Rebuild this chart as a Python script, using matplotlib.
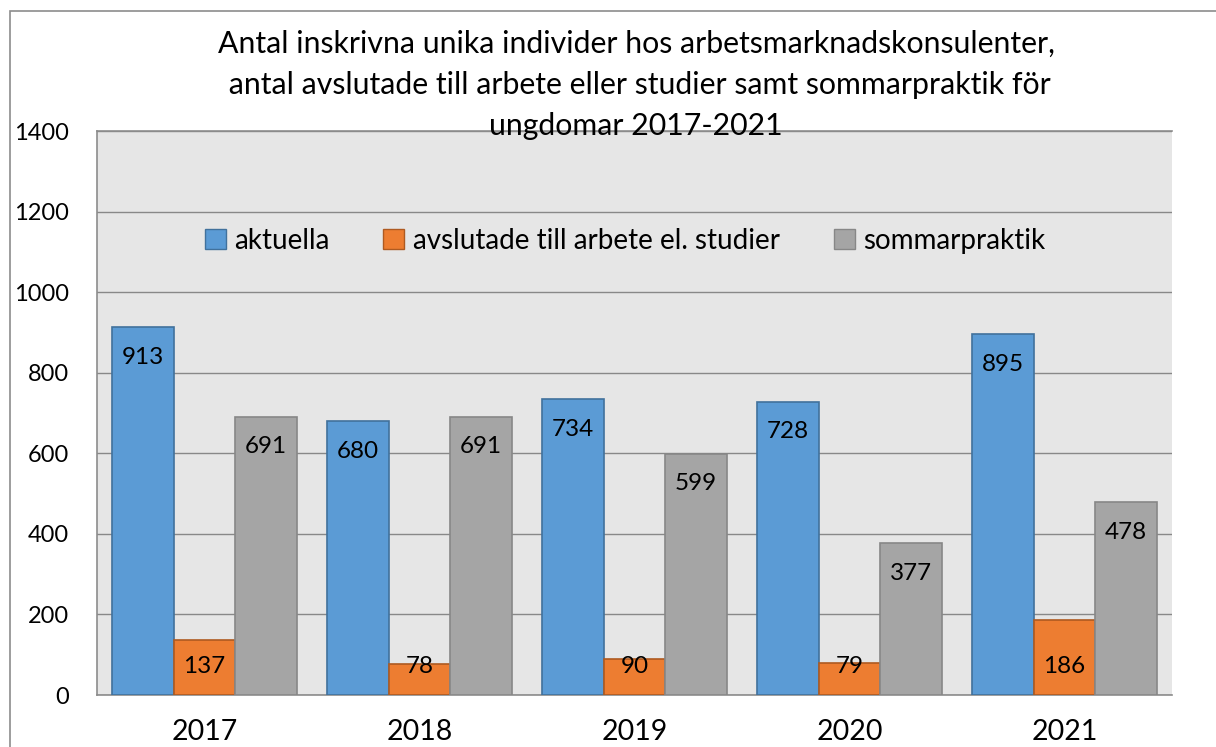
import matplotlib
matplotlib.use("Agg")
import matplotlib.pyplot as plt
from matplotlib.patches import Rectangle, Patch
import numpy as np

years = ["2017", "2018", "2019", "2020", "2021"]
aktuella = [913, 680, 734, 728, 895]
avslutade = [137, 78, 90, 79, 186]
sommarpraktik = [691, 691, 599, 377, 478]
series_names = ["aktuella", "avslutade till arbete el. studier", "sommarpraktik"]
title = ("Antal inskrivna unika individer hos arbetsmarknadskonsulenter,\n"
         " antal avslutade till arbete eller studier samt sommarpraktik för\n"
         "ungdomar 2017-2021")

plt.rcParams['font.family'] = ['Lato', 'DejaVu Sans']

W, H = 1216, 747
fig = plt.figure(figsize=(W/100, H/100), dpi=100)
fig.patch.set_facecolor('white')
# outer border
fig.add_artist(Rectangle((10/W, -0.1), 1.2, (H - 11)/H + 0.1, transform=fig.transFigure,
                         fill=False, edgecolor='#8c8c8c', linewidth=1.2))

ax = fig.add_axes([97/W, 52/H, (1172-97)/W, (695-131)/H])
ax.set_facecolor('#e6e6e6')

fills = ['#5b9bd5', '#ed7d31', '#a5a5a5']
edges = ['#41719c', '#ae5a21', '#878787']
data = [aktuella, avslutade, sommarpraktik]
x = np.arange(len(years))
bw = 0.286
for i, (vals, fc, ec) in enumerate(zip(data, fills, edges)):
    pos = x + (i - 1) * bw
    ax.bar(pos, vals, width=bw, color=fc, edgecolor=ec, linewidth=1.2, zorder=3)
    for p, v in zip(pos, vals):
        if i == 1:
            y = 70
        else:
            y = v - 75
        ax.text(p, y, str(v), ha='center', va='center', fontsize=17.5, color='black', zorder=4)

ax.set_xlim(-0.5, 4.5)
ax.set_ylim(0, 1400)
ax.set_yticks(range(0, 1401, 200))
ax.set_xticks(x)
ax.set_xticklabels(years, fontsize=20.5)
ax.tick_params(axis='y', length=0, pad=20, labelsize=17)
ax.tick_params(axis='x', length=0, pad=17)
ax.yaxis.grid(True, color='#888888', linewidth=1.0, zorder=0)
ax.set_axisbelow(True)
for s in ['top', 'left', 'bottom']:
    ax.spines[s].set_color('#8c8c8c')
    ax.spines[s].set_linewidth(1.2)
ax.spines['right'].set_visible(False)

fig.text(636/W, 1 - 30/H, title, ha='center', va='top', fontsize=21.8, linespacing=1.57,
         transform=fig.transFigure)

handles = [Patch(facecolor=fc, edgecolor=ec, linewidth=1.0) for fc, ec in zip(fills, edges)]
fig.legend(handles, series_names, loc='center', bbox_to_anchor=(625/W, 1 - 241/H), ncol=3,
           frameon=False, fontsize=20, handlelength=0.75, handleheight=0.75, handletextpad=0.3,
           columnspacing=1.95)

fig.savefig("out.png", dpi=100, facecolor='white')
